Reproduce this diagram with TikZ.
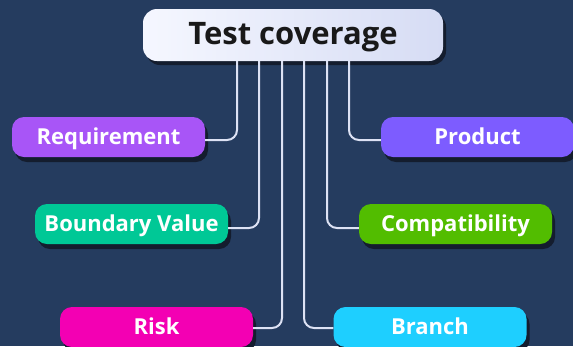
\documentclass[tikz,border=0pt]{standalone}
\usepackage{fontspec}
\setmainfont{Open Sans}
\usetikzlibrary{shadows}
\definecolor{bg}{HTML}{253C5F}
\definecolor{shd}{HTML}{141D2E}
\definecolor{wire}{HTML}{DDE2F4}
\definecolor{cReq}{HTML}{A855F7}
\definecolor{cBnd}{HTML}{00C896}
\definecolor{cRisk}{HTML}{F300B3}
\definecolor{cBr}{HTML}{1ECFFF}
\definecolor{cCmp}{HTML}{52BD00}
\definecolor{cPrd}{HTML}{7D5CFF}
\definecolor{rootL}{HTML}{F5F7FF}
\definecolor{rootR}{HTML}{D6DCF4}
\tikzset{
  x=1pt,y=-1pt,
  leaf/.style={rounded corners=12pt, minimum width=193pt, minimum height=40pt,
    inner sep=0pt, text=white, font=\bfseries\fontsize{22}{24}\selectfont,
    text height=15.7pt, text depth=0pt,
    drop shadow={shadow xshift=3pt, shadow yshift=-5pt, fill=shd, opacity=1}},
  rootbox/.style={rounded corners=14pt, minimum width=300pt, minimum height=52pt,
    inner sep=0pt, left color=rootL, right color=rootR, text=black!90,
    font=\bfseries\fontsize{31}{33}\selectfont,
    text height=22pt, text depth=4pt,
    drop shadow={shadow xshift=3pt, shadow yshift=-4pt, fill=shd, opacity=1}},
  wire/.style={draw=wire, line width=2pt, rounded corners=10pt}
}
\begin{document}
\begin{tikzpicture}
\fill[bg] (0,0) rectangle (573,346);
\useasboundingbox (0,0) rectangle (573,346);
\node[rootbox] (root) at (293,35) {Test coverage};
\node[leaf, fill=cReq] (req) at (108.5,137) {Requirement};
\node[leaf, fill=cBnd] (bnd) at (131.5,224) {Boundary Value};
\node[leaf, fill=cRisk] (risk) at (156.5,327) {Risk};
\node[leaf, fill=cBr] (br) at (430,327) {Branch};
\node[leaf, fill=cCmp] (cmp) at (455.5,224) {Compatibility};
\node[leaf, fill=cPrd] (prd) at (477.5,137) {Product};
\draw[wire] ([xshift=-56pt]root.south) |- ([yshift=-3pt]req.east);
\draw[wire] ([xshift=-34pt]root.south) |- ([yshift=-4pt]bnd.east);
\draw[wire] ([xshift=-11pt]root.south) |- ([yshift=-1pt]risk.east);
\draw[wire] ([xshift=11pt]root.south) |- ([yshift=-1pt]br.west);
\draw[wire] ([xshift=34pt]root.south) |- ([yshift=-4pt]cmp.west);
\draw[wire] ([xshift=56pt]root.south) |- ([yshift=-3pt]prd.west);
\end{tikzpicture}
\end{document}
